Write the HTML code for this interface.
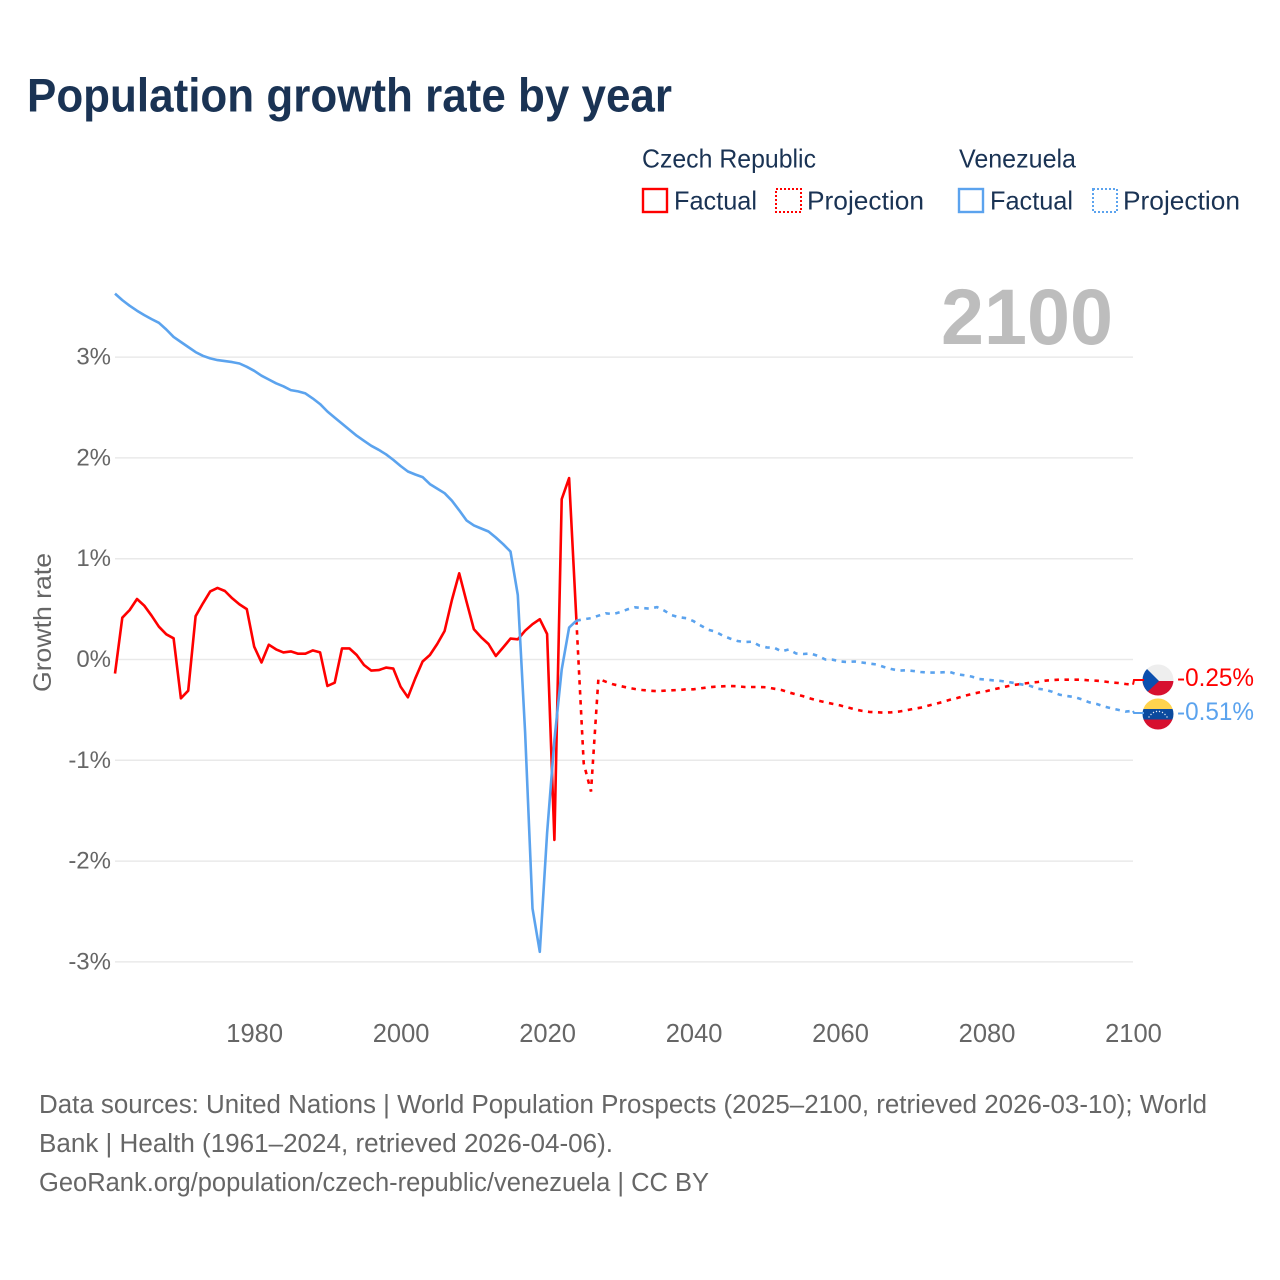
<!DOCTYPE html>
<html lang="en">
<head>
<meta charset="utf-8">
<title>Population growth rate by year</title>
<style>
html,body{margin:0;padding:0;background:#fff;}
svg{display:block;font-family:"Liberation Sans",sans-serif;}
</style>
</head>
<body>
<svg id="chart" xmlns="http://www.w3.org/2000/svg" width="1280" height="1280" viewBox="0 0 1280 1280">
  <defs>
    <clipPath id="clip-cz"><circle cx="1158" cy="680" r="15.5"/></clipPath>
    <clipPath id="clip-ve"><circle cx="1158" cy="714" r="15.5"/></clipPath>
  </defs>
  <rect x="0" y="0" width="1280" height="1280" fill="#fff"/>
  <text x="27" y="111.5" font-size="47" font-weight="700" fill="#1a3354" textLength="645" lengthAdjust="spacingAndGlyphs">Population growth rate by year</text>

  <g fill="#1a3354" font-size="26">
    <text x="642" y="167.5" textLength="174" lengthAdjust="spacingAndGlyphs">Czech Republic</text>
    <text x="959" y="167.5" textLength="117" lengthAdjust="spacingAndGlyphs">Venezuela</text>
    <g>
      <rect x="643" y="189" width="24" height="23" fill="none" stroke="#ff0000" stroke-width="2.4"/>
      <text x="674" y="209.5" textLength="83" lengthAdjust="spacingAndGlyphs">Factual</text>
    </g>
    <g>
      <rect x="776" y="189" width="25" height="23" fill="none" stroke="#ff0000" stroke-width="2" stroke-dasharray="2 2"/>
      <text x="807" y="209.5" textLength="117" lengthAdjust="spacingAndGlyphs">Projection</text>
    </g>
    <g>
      <rect x="959" y="189" width="24" height="23" fill="none" stroke="#5ba3ee" stroke-width="2.4"/>
      <text x="990" y="209.5" textLength="83" lengthAdjust="spacingAndGlyphs">Factual</text>
    </g>
    <g>
      <rect x="1093" y="189" width="24" height="23" fill="none" stroke="#5ba3ee" stroke-width="2" stroke-dasharray="2 2"/>
      <text x="1123" y="209.5" textLength="117" lengthAdjust="spacingAndGlyphs">Projection</text>
    </g>
  </g>

  <text x="941" y="344" font-size="79" font-weight="700" fill="#bdbdbd" textLength="172" lengthAdjust="spacingAndGlyphs">2100</text>

  <g id="grid"></g>
  <g id="y-axis"></g>
  <g id="x-axis"></g>
  <text transform="translate(51,622.5) rotate(-90)" text-anchor="middle" font-size="25" fill="#666" textLength="139" lengthAdjust="spacingAndGlyphs">Growth rate</text>
  <g id="series"></g>

  <g clip-path="url(#clip-cz)">
    <rect x="1142" y="664" width="32" height="17" fill="#eeeeee"/>
    <rect x="1142" y="681" width="32" height="16" fill="#d7102f"/>
    <polygon points="1142,664 1159,681 1142,697" fill="#0b4fae"/>
  </g>
  <g clip-path="url(#clip-ve)">
    <rect x="1142" y="698" width="32" height="11" fill="#ffd34e"/>
    <rect x="1142" y="709" width="32" height="10.5" fill="#0b4a9e"/>
    <rect x="1142" y="719.500" width="32" height="11" fill="#d7102f"/>
    <g fill="#e8eef8">
      <circle cx="1149" cy="717" r=".7"/><circle cx="1151" cy="714.5" r=".7"/><circle cx="1153.500" cy="712.500" r=".7"/><circle cx="1156.500" cy="711.500" r=".7"/>
      <circle cx="1159.500" cy="711.500" r=".7"/><circle cx="1162.500" cy="712.500" r=".7"/><circle cx="1165" cy="714.5" r=".7"/><circle cx="1167" cy="717" r=".7"/>
    </g>
  </g>
  <g id="end-labels"></g>

  <g font-size="25.5" fill="#666">
    <text x="39" y="1113" textLength="1168" lengthAdjust="spacingAndGlyphs">Data sources: United Nations | World Population Prospects (2025–2100, retrieved 2026-03-10); World</text>
    <text x="39" y="1152" textLength="574" lengthAdjust="spacingAndGlyphs">Bank | Health (1961–2024, retrieved 2026-04-06).</text>
    <text x="39" y="1191" textLength="670" lengthAdjust="spacingAndGlyphs">GeoRank.org/population/czech-republic/venezuela | CC BY</text>
  </g>
</svg>
<script>
const factualStartYear = 1961;
const projectionStartYear = 2024;
const yTicks = [3, 2, 1, 0, -1, -2, -3];
const yTickLabels = ['3%', '2%', '1%', '0%', '-1%', '-2%', '-3%'];
const xTicks = [1980, 2000, 2020, 2040, 2060, 2080, 2100];
const xTickLabels = ['1980', '2000', '2020', '2040', '2060', '2080', '2100'];
const endLabels = ['-0.25%', '-0.51%'];
const czechFactual = [-0.14,0.415,0.49,0.60,0.534,0.435,0.325,0.25,0.21,-0.385,-0.31,0.43,0.557,0.676,0.71,0.68,0.607,0.547,0.50,0.127,-0.03,0.147,0.10,0.07,0.08,0.058,0.058,0.09,0.07,-0.263,-0.23,0.11,0.11,0.045,-0.055,-0.11,-0.105,-0.08,-0.09,-0.27,-0.375,-0.187,-0.02,0.045,0.154,0.283,0.59,0.855,0.574,0.30,0.22,0.154,0.035,0.12,0.207,0.20,0.286,0.35,0.40,0.253,-1.79,1.59,1.80,0.39];
const czechProjection = [0.39,-1.03,-1.31,-0.19,-0.22,-0.246,-0.263,-0.28,-0.293,-0.303,-0.31,-0.313,-0.31,-0.306,-0.303,-0.296,-0.296,-0.286,-0.276,-0.27,-0.266,-0.263,-0.266,-0.273,-0.273,-0.273,-0.276,-0.29,-0.303,-0.326,-0.346,-0.365,-0.388,-0.408,-0.425,-0.44,-0.455,-0.475,-0.494,-0.51,-0.52,-0.524,-0.527,-0.524,-0.517,-0.505,-0.49,-0.478,-0.458,-0.44,-0.422,-0.40,-0.382,-0.36,-0.342,-0.326,-0.313,-0.296,-0.28,-0.263,-0.25,-0.24,-0.23,-0.223,-0.21,-0.203,-0.20,-0.20,-0.20,-0.20,-0.207,-0.21,-0.217,-0.227,-0.233,-0.243,-0.25];
const venezuelaFactual = [3.63,3.565,3.51,3.46,3.417,3.377,3.34,3.274,3.20,3.15,3.10,3.05,3.013,2.987,2.97,2.96,2.95,2.937,2.904,2.864,2.815,2.778,2.74,2.71,2.673,2.66,2.64,2.59,2.534,2.46,2.40,2.34,2.28,2.22,2.17,2.12,2.08,2.036,1.98,1.92,1.865,1.835,1.81,1.74,1.695,1.65,1.575,1.48,1.38,1.33,1.30,1.27,1.21,1.144,1.07,0.64,-0.72,-2.47,-2.90,-1.72,-0.80,-0.10,0.316,0.385];
const venezuelaProjection = [0.385,0.40,0.41,0.435,0.458,0.45,0.47,0.498,0.518,0.51,0.505,0.52,0.485,0.44,0.42,0.41,0.38,0.336,0.296,0.276,0.236,0.207,0.184,0.174,0.177,0.137,0.12,0.117,0.08,0.10,0.06,0.055,0.06,0.035,0,-0.002,-0.02,-0.025,-0.02,-0.03,-0.041,-0.05,-0.074,-0.094,-0.11,-0.107,-0.114,-0.124,-0.13,-0.13,-0.127,-0.124,-0.147,-0.157,-0.17,-0.193,-0.20,-0.207,-0.213,-0.223,-0.236,-0.25,-0.263,-0.29,-0.30,-0.32,-0.35,-0.362,-0.373,-0.395,-0.425,-0.44,-0.465,-0.484,-0.50,-0.517,-0.51];

const NS = 'http://www.w3.org/2000/svg';
const RED = '#ff0000';
const BLUE = '#5ba3ee';
function xScale(year) { return 115 + (year - 1961) * (1133 - 115) / (2100 - 1961); }
function yScale(value) { return 659.5 - value * 100.8; }
function pointsFor(values, startYear) {
  return values.map(function (v, i) { return xScale(startYear + i).toFixed(1) + ',' + yScale(v).toFixed(1); }).join(' ');
}
function make(tag, attrs, parent, text) {
  const el = document.createElementNS(NS, tag);
  Object.keys(attrs).forEach(function (k) { el.setAttribute(k, attrs[k]); });
  if (text !== undefined) el.textContent = text;
  parent.appendChild(el);
  return el;
}
const grid = document.getElementById('grid');
const yAxis = document.getElementById('y-axis');
const xAxis = document.getElementById('x-axis');
const series = document.getElementById('series');
const endGroup = document.getElementById('end-labels');

yTicks.forEach(function (t, i) {
  const line = make('line', {x1: 115, x2: 1133, y1: yScale(t), y2: yScale(t), stroke: '#e9e9e9', 'stroke-width': 1.5}, grid);
  
  
  const label = make('text', {x: 111, y: yScale(t) + 7.5, 'text-anchor': 'end', 'font-size': 24, fill: '#666'}, yAxis, yTickLabels[i]);
  
  
});
xTicks.forEach(function (t, i) {
  const label = make('text', {x: xScale(t) + 0.5, y: 1042, 'text-anchor': 'middle', 'font-size': 25.5, fill: '#666'}, xAxis, xTickLabels[i]);
  
  
});

const czechLine = make('polyline', {points: pointsFor(czechFactual, factualStartYear), fill: 'none', stroke: RED, 'stroke-width': 2.6, 'stroke-linejoin': 'round'}, series);


const czechDots = make('polyline', {points: pointsFor(czechProjection, projectionStartYear), fill: 'none', stroke: RED, 'stroke-width': 2.6, 'stroke-dasharray': '4.5 5.5'}, series);


const venLine = make('polyline', {points: pointsFor(venezuelaFactual, factualStartYear), fill: 'none', stroke: BLUE, 'stroke-width': 2.6, 'stroke-linejoin': 'round'}, series);


const venDots = make('polyline', {points: pointsFor(venezuelaProjection, projectionStartYear), fill: 'none', stroke: BLUE, 'stroke-width': 2.6, 'stroke-dasharray': '4.5 5.5'}, series);



function connector(values, flagY, color) {
  const x = xScale(2100), y = yScale(values[values.length - 1]);
  return make('polyline', {points: [x, y, x + 1, flagY, 1144, flagY].join(' '), fill: 'none', stroke: color, 'stroke-width': 2}, endGroup);
}
const czechConnector = connector(czechProjection, 680, RED);


const venConnector = connector(venezuelaProjection, 713, BLUE);



const czechEnd = make('text', {x: 1177, y: 686, 'font-size': 25, fill: RED, textLength: 77, lengthAdjust: 'spacingAndGlyphs'}, endGroup, endLabels[0]);


const venEnd = make('text', {x: 1177, y: 720, 'font-size': 25, fill: BLUE, textLength: 77, lengthAdjust: 'spacingAndGlyphs'}, endGroup, endLabels[1]);


</script>
</body>
</html>
